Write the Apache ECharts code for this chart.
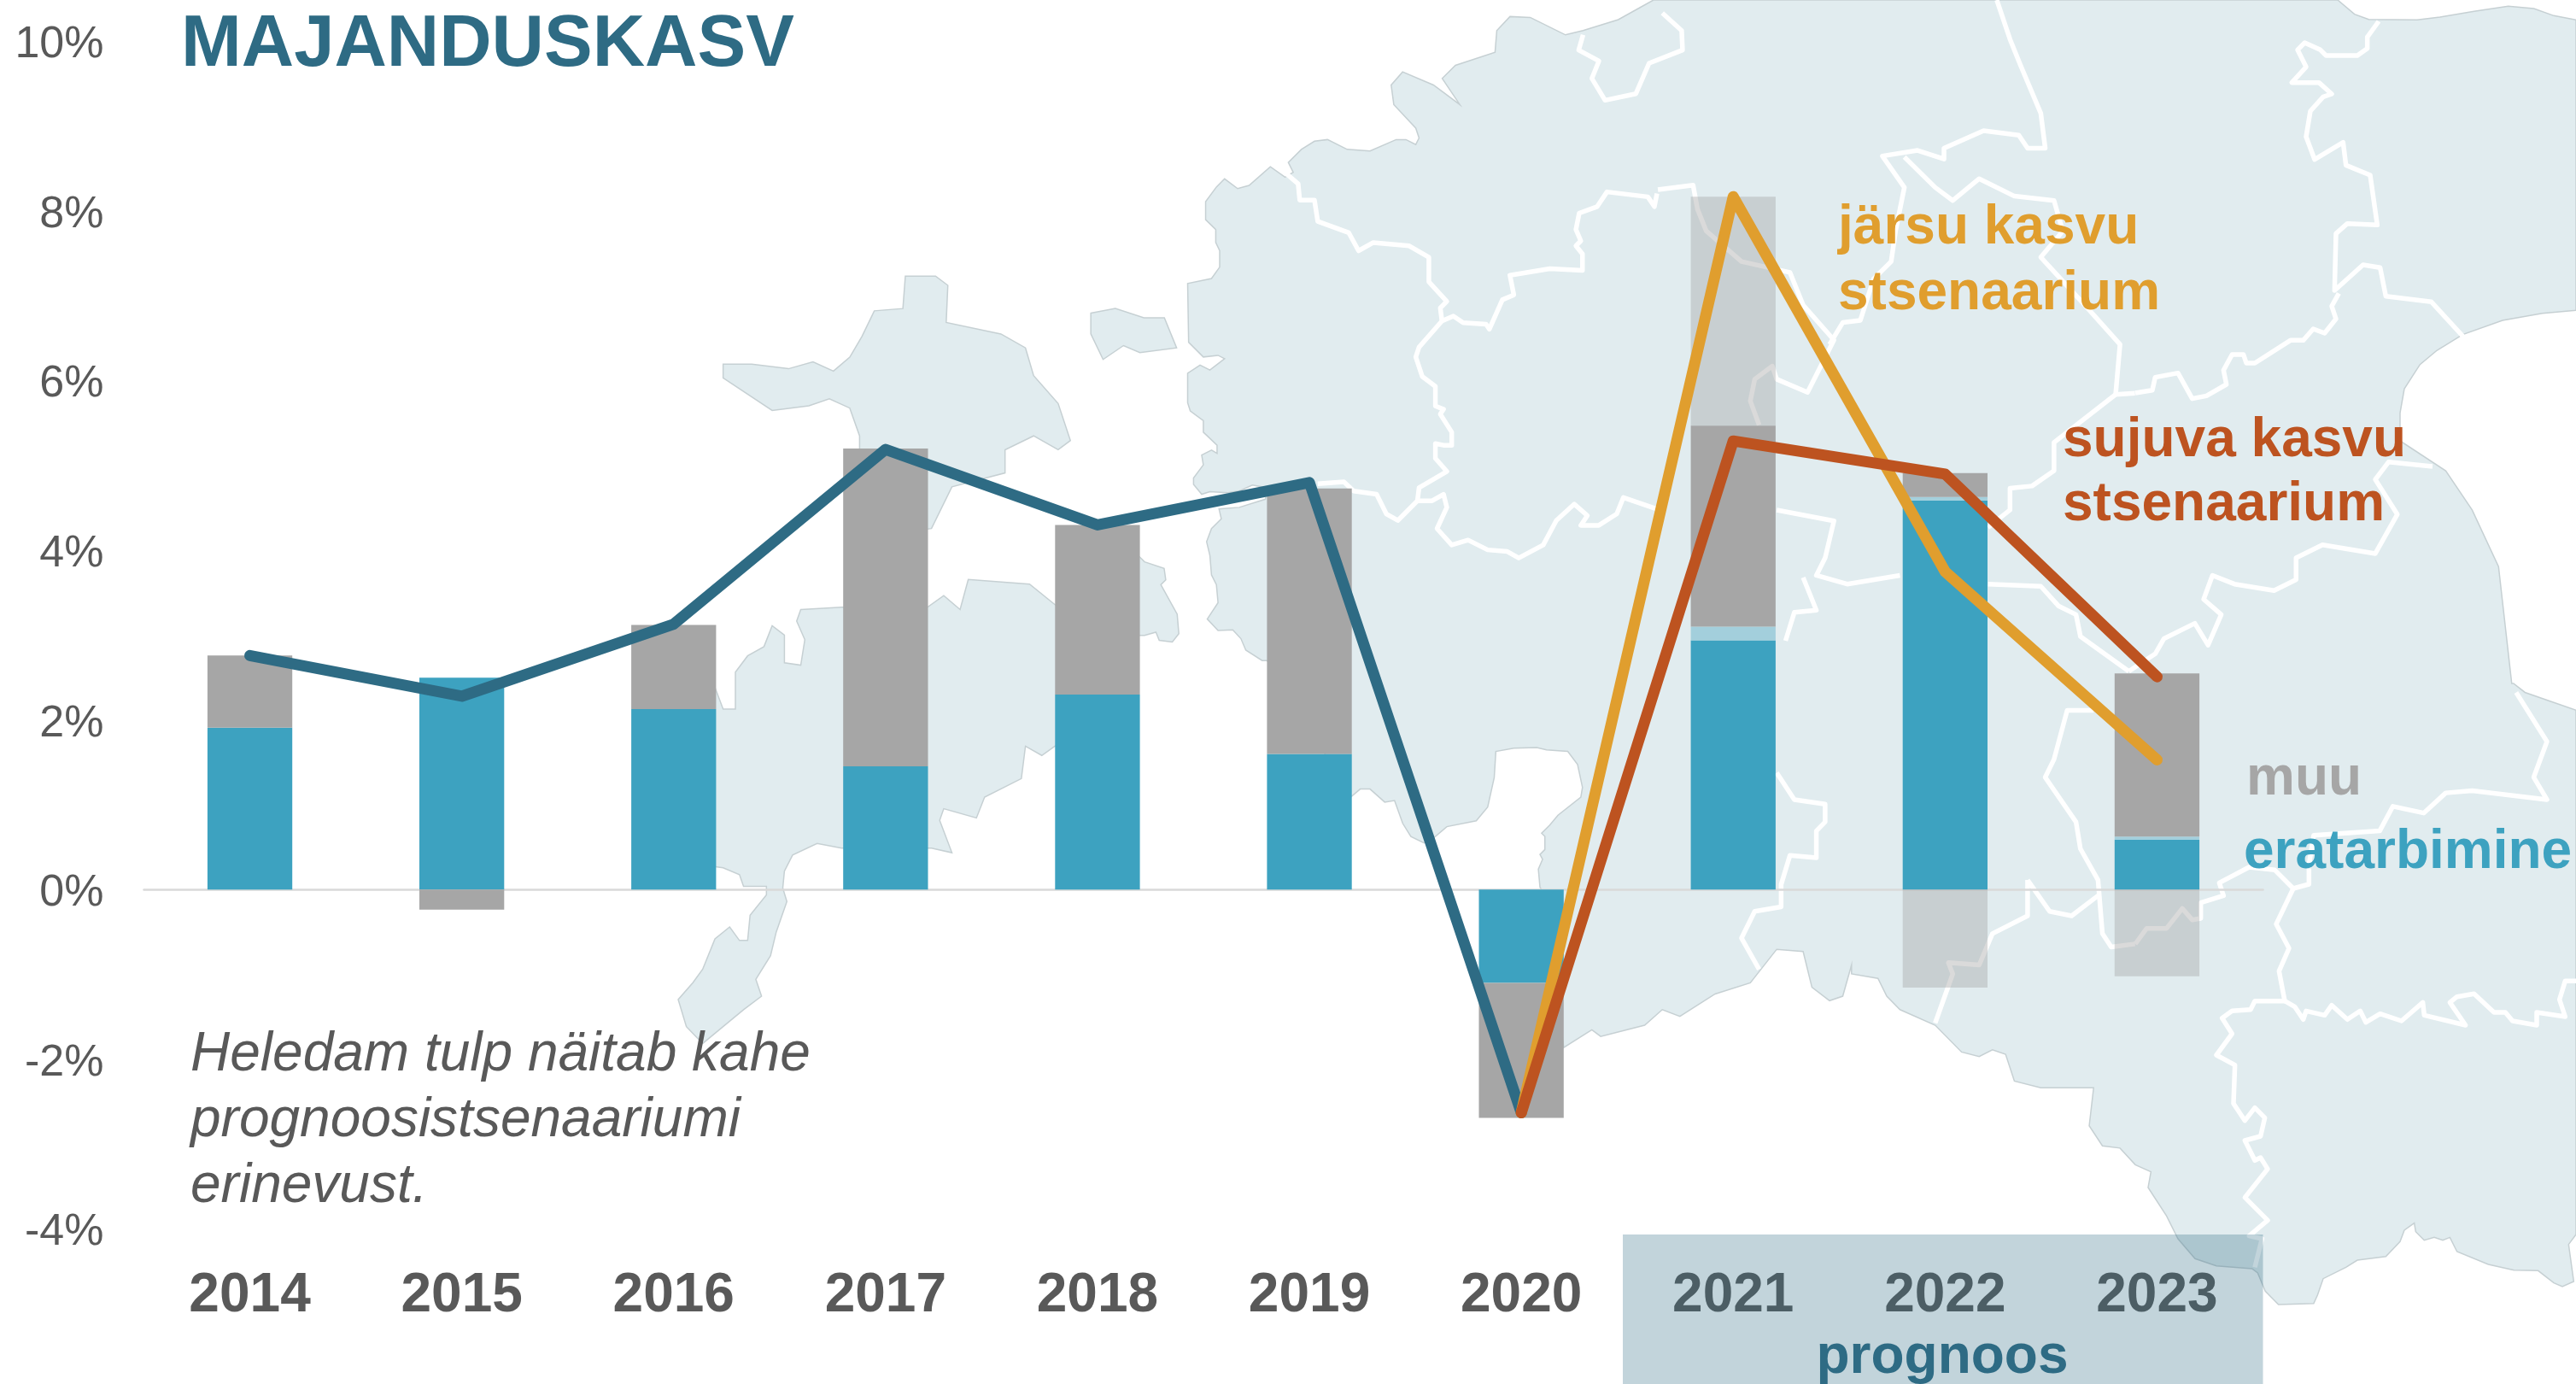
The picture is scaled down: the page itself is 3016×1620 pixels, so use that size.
<!DOCTYPE html>
<html><head><meta charset="utf-8">
<style>html,body{margin:0;padding:0;background:#fff}#c{width:3016px;height:1620px}</style>
<script src="https://cdn.jsdelivr.net/npm/echarts@6/dist/echarts.min.js"></script>
</head><body><div id="c"></div>
<script>
// ---- data ----
const years = ['2014','2015','2016','2017','2018','2019','2020','2021','2022','2023'];
const privateConsumption = [1.91,2.50,2.13,1.455,2.30,1.60,-1.10,2.94,4.59,0.59];
const privateConsumptionSpread = [null,null,null,null,null,null,null,0.16,0.04,0.035];
const otherGrowth = [0.85,-0.235,0.99,3.745,2.00,3.13,-1.59,2.37,0.28,1.925];
const scenarioSpread = [null,null,null,null,null,null,null,2.70,-1.155,-1.02];
const gdpGrowth = [2.76,2.28,3.13,5.19,4.30,4.80,-2.63,null,null,null];
const fastScenario = [null,null,null,null,null,null,-2.63,8.17,3.75,1.53];
const smoothScenario = [null,null,null,null,null,null,-2.63,5.29,4.90,2.51];
const titleText = 'MAJANDUSKASV';
const fastLabel = ['järsu kasvu','stsenaarium'];
const smoothLabel = ['sujuva kasvu','stsenaarium'];
const otherLabel = 'muu';
const consumptionLabel = 'eratarbimine';
const forecastLabel = 'prognoos';
const noteLines = ['Heledam tulp näitab kahe','prognoosistsenaariumi','erinevust.'];

// ---- decorative background map (page pixels, read through crop frames) ----
const frame=(ox,oy,sx,sy)=>pts=>pts.map(p=>[ox+p[0]/sx,oy+p[1]/sy]);
const Z1=frame(1400,0,.9703,1.96),Z2=frame(1400,800,.9703,1.9122),Z3=frame(0,250,1.0453,1.8447),Z4=frame(0,1000,1.0453,2.529),
      Z5=frame(1340,150,2.6133,2.6133),Z6=frame(1340,650,2.6133,2.6133),Z7=frame(2500,0,3,3),Z8=frame(2500,1000,3,3);
const mainland=[].concat(
 Z1([[520,0]]),[[2737,0]],
 Z7([[770,50],[820,68],[990,70],[1070,60],[1190,40],[1310,22],[1400,30],[1470,55],[1548,70],[1548,1090],[1430,1100],[1290,1125],[1150,1175],[1060,1230],[1000,1280],[945,1365],[930,1450],[930,1548]]),
 Z1([[1420,1080],[1450,1170],[1480,1300],[1495,1568]]),
 Z2([[1497,0],[1510,20],[1568,60]]),
 Z8([[1548,1335],[1522,1370],[1540,1500],[1500,1518],[1470,1505],[1415,1462],[1330,1460],[1240,1440],[1130,1395],[1105,1345],[1080,1355],[1050,1345],[1015,1355],[985,1325],[980,1295],[945,1320],[930,1360],[880,1412],[780,1425],[740,1450],[660,1490],[640,1548]]),
 Z2([[1270,1388],[1230,1390],[1215,1360]]),
 Z8([[430,1470],[410,1455],[285,1445],[210,1420],[150,1350],[110,1270],[45,1170],[55,1115],[0,1090]]),
 Z2([[1050,1040],[1030,1035],[1015,990],[1020,905],[960,905],[930,890],[920,830],[905,820],[890,835],[870,825],[840,765],[800,730],[785,700],[775,660],[745,650],[745,630],[735,700],[720,710],[700,680],[690,600],[660,595],[630,670],[590,695],[550,745],[530,730],[510,765],[460,790],[450,775],[418,815]]),
 Z6([[1225,1040],[1210,1015],[1205,960],[1218,930],[1210,915],[1225,900],[1225,860],[1215,850],[1240,825],[1265,795],[1335,740],[1340,710],[1325,640],[1295,600],[1230,595],[1200,588],[1130,590],[1075,600],[1070,680],[1050,770],[1015,812],[925,830],[890,860],[855,880],[815,860],[790,820],[765,750],[735,755],[690,715],[660,715],[633,738],[375,322],[360,322],[310,290],[295,255],[270,228],[225,230],[192,195],[225,145],[220,90],[205,60],[200,0]]),
 Z5([[190,1265],[205,1225],[235,1195],[228,1165],[290,1160],[370,1135],[375,1100],[330,1092],[290,1110],[255,1115],[200,1112],[175,1120],[150,1090],[150,1070],[180,1030],[175,1000],[205,985],[222,995],[222,970],[180,930],[180,895],[140,865],[132,840],[132,750],[170,725],[200,740],[245,705],[225,695],[180,700],[135,655],[132,475],[205,460],[230,425],[230,375],[218,350],[218,310],[187,280],[187,225],[220,180],[245,155],[285,185],[320,175],[385,118],[430,150],[455,135],[440,105],[480,65],[520,40],[560,35],[620,65],[690,70],[770,35],[800,35],[830,50],[840,30],[830,0]]),
 Z1([[225,240],[222,195],[235,165],[270,195],[300,240],[280,180],[295,150],[340,120],[342,70],[357,38],[380,40],[420,80],[440,70],[480,45]])
);
const hiiumaa=Z3([[1108,135],[1145,135],[1160,155],[1158,235],[1225,260],[1255,290],[1265,350],[1295,410],[1310,490],[1295,510],[1265,480],[1230,510],[1230,560],[1165,590],[1140,680],[1052,700],[1052,480],[1040,420],[1015,400],[990,415],[945,425],[885,355],[885,325],[920,325],[965,335],[995,320],[1020,340],[1040,310],[1055,265],[1070,210],[1105,205]]);
const vormsi=Z3([[1335,215],[1365,205],[1400,225],[1425,225],[1440,290],[1395,300],[1375,285],[1350,315],[1335,260]]);
const muhu=Z6([[-20,0],[0,20],[60,40],[65,75],[50,90],[100,180],[105,240],[85,265],[45,260],[35,235],[0,245],[-20,245]]);
const saaremaa=[].concat(
 Z3([[980,855],[1030,850],[1135,850],[1155,825],[1175,855],[1185,790],[1260,800],[1295,850],[1330,900],[1330,1120],[1291,1150],[1275,1170],[1255,1150],[1250,1220],[1205,1260],[1195,1305],[1155,1285],[1150,1310],[1165,1380],[1140,1370],[1030,1370],[1000,1360],[970,1385],[960,1420]]),
 Z4([[958,100],[963,140],[950,230],[943,300],[925,370],[932,420],[910,460],[885,510],[860,560],[840,510],[830,430],[848,380],[860,340],[875,250],[893,215],[905,255],[915,255],[918,180],[938,120],[938,95],[910,95],[905,60],[885,40],[870,35]]),
 Z3([[870,1000],[885,1070],[900,1070],[900,990],[915,955],[935,935],[945,890],[960,910],[960,970],[980,975],[985,920],[975,880]])
);
const borders=[
 Z5([[435,140],[470,170],[475,220],[520,220],[530,285],[625,320],[655,375],[700,350],[810,360],[870,395],[870,470],[925,530],[905,550],[910,590],[945,575],[975,595],[1045,600],[1055,615],[1095,525],[1130,510],[1118,450],[1240,430],[1340,435],[1340,385],[1320,360],[1335,345],[1320,310],[1330,260],[1385,240],[1415,195],[1540,210],[1560,240],[1568,200]]),
 Z1([[525,435],[565,425],[570,480],[580,530],[620,600],[675,625],[680,650],[690,700],[725,780],[720,800],[695,900],[660,870],[655,840],[635,870],[630,920],[640,975]]),
 Z5([[910,590],[840,670],[830,700],[850,760],[890,790],[890,850],[915,860],[905,875],[940,930],[940,970],[915,970],[890,965],[890,1010],[925,1050],[840,1100],[835,1140],[880,1140],[915,1120],[925,1160],[895,1225],[940,1275],[990,1260],[1050,1290],[1110,1295],[1145,1315],[1220,1275],[1260,1200],[1315,1150],[1355,1185],[1335,1215],[1390,1215],[1445,1180],[1465,1130],[1568,1165]]),
 Z5([[835,1140],[775,1200],[740,1180],[710,1120],[640,1110],[610,1082],[530,1088]]),
 Z7([[855,75],[815,130],[815,170],[780,195],[670,195],[650,175],[595,150],[570,175],[600,235],[550,290],[645,290],[690,330],[660,340],[615,390],[600,480],[630,560],[730,500],[740,580],[825,615],[850,790],[745,785],[705,820],[700,1020],[800,930],[860,940],[880,1040],[1040,1060],[1150,1180]]),
 Z7([[715,1030],[690,1075],[705,1120],[665,1170],[625,1155],[590,1195],[545,1195],[420,1275],[390,1275],[380,1245],[340,1245],[310,1300],[320,1350],[250,1390],[200,1400],[150,1310],[70,1325],[60,1370],[0,1380]]),
 Z1([[1067,902],[1045,905],[1050,790],[1010,700],[960,590],[985,530],[975,460],[930,450],[890,410],[860,460],[840,430],[805,360]]),
 Z1([[1045,905],[975,1015],[975,1080],[950,1115],[925,1120],[925,1170],[900,1210]]),
 Z1([[910,0],[925,90],[937,150],[960,260],[965,340],[945,340],[935,310],[895,300],[850,340],[850,365],[820,345],[780,358],[805,430],[795,530],[790,600],[770,640],[755,735],[735,740],[720,790]]),
 Z1([[530,30],[552,70],[553,115],[515,145],[500,215],[465,230],[450,180],[458,140],[435,115],[440,80]]),
 Z1([[1405,1070],[1355,1060],[1340,1100],[1365,1180],[1340,1270],[1280,1250],[1250,1280],[1250,1330],[1225,1355],[1180,1340],[1155,1320],[1145,1375],[1165,1410],[1150,1480],[1135,1430],[1100,1465],[1090,1500],[1060,1540]]),
 Z1([[660,1170],[725,1195],[715,1280],[705,1320],[740,1340],[800,1320]]),
 Z1([[690,1325],[705,1400],[680,1405],[670,1470]]),
 Z1([[900,1340],[960,1345],[980,1390],[1000,1410],[1005,1460],[1060,1540]]),
 Z2([[660,200],[680,260],[715,270],[715,310],[705,330],[705,390],[675,385],[665,450],[665,500],[635,510],[620,570],[640,640]]),
 Z2([[1020,60],[990,60],[975,170],[965,210],[1000,310],[1005,370],[1025,440],[1030,560],[1040,590],[1067,583]]),
 Z8([[0,315],[40,260],[110,260],[165,190],[200,230],[230,225],[230,170],[310,145],[295,100],[400,45],[490,55],[555,120],[610,105],[610,50]]),
 Z8([[555,120],[495,245],[540,330],[505,410],[525,515],[420,515],[405,545],[340,550],[305,575],[340,630],[285,705],[350,740],[345,875],[385,935],[420,890],[455,925],[440,990],[385,1005],[420,1075],[440,1065],[465,1105],[385,1205],[465,1285],[400,1340],[445,1350],[420,1450]]),
 Z8([[525,515],[560,535],[590,580],[600,550],[665,565],[690,530],[745,580],[790,550],[810,590],[860,560],[935,585],[1010,520],[1015,565],[1160,600],[1105,520],[1130,500],[1190,490],[1260,555],[1300,555],[1325,585],[1410,600],[1410,555],[1510,570],[1490,510],[1510,445],[1548,445]]),
 Z2([[1500,20],[1535,130],[1520,210],[1535,260],[1450,240],[1420,245],[1395,290],[1360,275],[1345,330],[1270,340],[1264,413]]),
 Z2([[945,440],[970,510],[995,520],[1025,475]]),
 Z2([[945,440],[945,520],[905,560],[890,630],[855,625],[860,650],[840,760]])
];
const LAND='#e1ecef',COAST='#c6d0d3',TEXT='#595959',TEAL='#2e6b84',BLUE='#3da2c0',GREY='#a6a6a6',ORANGE='#e09e2e',RUST='#bd5320';
const FONT='"Liberation Sans", Arial, sans-serif';
const land=pts=>({type:'polygon',silent:true,z:-2,shape:{points:pts},style:{fill:LAND,stroke:COAST,lineWidth:1.5}});
const border=pts=>({type:'polyline',silent:true,z:-1,shape:{points:pts},style:{fill:null,stroke:'#fff',lineWidth:5.5,lineJoin:'round'}});
const label=(t,x,y,color,extra)=>({type:'text',silent:true,z:120,x,y,style:Object.assign({text:t,fill:color,font:'bold 64px '+FONT,align:'left',verticalAlign:'middle'},extra||{})});

const elements=[].concat(
 [mainland,hiiumaa,vormsi,muhu,saaremaa].map(land),
 borders.map(border),
 [{type:'rect',silent:true,z:100,shape:{x:1900,y:1445,width:749.5,height:175},style:{fill:'rgba(46,107,132,0.29)'}}],
 [label(titleText,212,54,TEAL,{font:'bold 85px '+FONT}),
  label(fastLabel[0],2152,267,ORANGE),label(fastLabel[1],2152,344,ORANGE),
  label(smoothLabel[0],2415,516,RUST),label(smoothLabel[1],2415,591,RUST),
  label(otherLabel,2630,912,GREY),label(consumptionLabel,2627,998,BLUE),
  label(forecastLabel,2274,1589,TEAL,{align:'center'})],
 noteLines.map((t,i)=>label(t,223,1235+i*77,TEXT,{font:'italic 64px '+FONT}))
);
const bar=(name,data,color)=>({name,type:'bar',stack:'g',data,barWidth:99.3,itemStyle:{color},z:3,silent:true,animation:false});
const line=(name,data,color,z)=>({name,type:'line',data,z,showSymbol:false,symbol:'none',connectNulls:false,silent:true,animation:false,clip:false,
  lineStyle:{color,width:13,cap:'round',join:'round'}});

const chart=echarts.init(document.getElementById('c'),null,{renderer:'canvas'});
chart.setOption({
 animation:false,backgroundColor:'#fff',
 grid:{left:168.5,top:48.5,width:2481,height:1390,containLabel:false},
 xAxis:[
  {type:'category',data:years,position:'bottom',axisLine:{show:false,onZero:false},axisTick:{show:false},
   axisLabel:{interval:0,margin:47,color:TEXT,fontFamily:FONT,fontWeight:'bold',fontSize:64,lineHeight:64}},
  {type:'category',data:years,position:'bottom',axisLine:{show:true,onZero:true,lineStyle:{color:'#d9d9d9',width:2.5}},axisTick:{show:false},axisLabel:{show:false}}
 ],
 yAxis:{type:'value',min:-4,max:10,interval:2,axisLine:{show:false},axisTick:{show:false},splitLine:{show:false},
  axisLabel:{formatter:v=>'{t|'+v+'%}',margin:47,showMinLabel:true,showMaxLabel:true,
   rich:{t:{color:TEXT,fontFamily:FONT,fontSize:52,padding:[9,0,0,0]}}}},
 graphic:{elements},
 series:[
  bar('eratarbimine',privateConsumption,BLUE),
  bar('eratarbimine vahe',privateConsumptionSpread,'#a3cfdc'),
  bar('muu',otherGrowth,GREY),
  bar('stsenaariumide vahe',scenarioSpread,'rgba(166,166,166,0.42)'),
  line('majanduskasv',gdpGrowth,TEAL,5),
  line('järsu kasvu stsenaarium',fastScenario,ORANGE,6),
  line('sujuva kasvu stsenaarium',smoothScenario,RUST,7)
 ]
});
</script></body></html>
